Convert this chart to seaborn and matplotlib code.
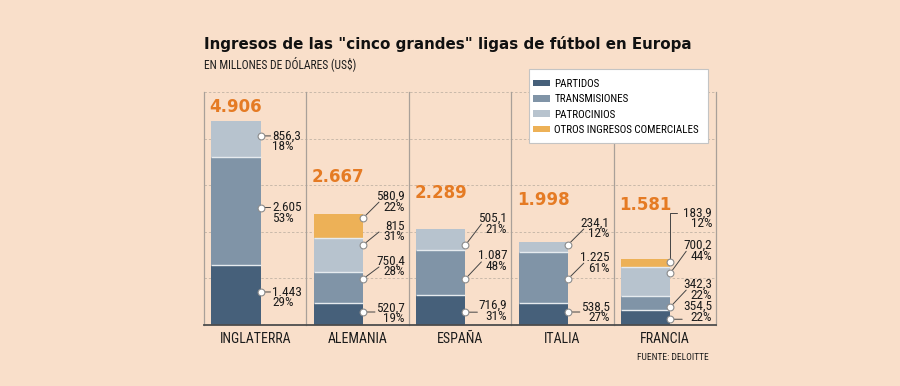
import matplotlib
matplotlib.use('Agg')
import matplotlib.pyplot as plt
import seaborn as sns
import numpy as np
import pandas as pd
from matplotlib import font_manager
from matplotlib.patches import Rectangle

# data (millones de US$)
countries = ['INGLATERRA', 'ALEMANIA', 'ESPAÑA', 'ITALIA', 'FRANCIA']
totals = [4906, 2667, 2289, 1998, 1581]
partidos = [1443, 520.7, 716.9, 538.5, 354.5]
transmisiones = [2605, 750.4, 1087, 1225, 342.3]
patrocinios = [856.3, 815, 505.1, 234.1, 700.2]
otros = [0, 580.9, 0, 0, 183.9]
pct_partidos = [29, 19, 31, 27, 22]
pct_transmisiones = [53, 28, 48, 61, 22]
pct_patrocinios = [18, 31, 21, 12, 44]
pct_otros = [0, 22, 0, 0, 12]

series_names = ['PARTIDOS', 'TRANSMISIONES', 'PATROCINIOS', 'OTROS INGRESOS COMERCIALES']
colors = ['#46607a', '#8094a7', '#b7c3ce', '#edb157']
bg = '#f9dfca'
orange = '#e57b24'
txt = '#1c1c1c'

# hand placement of the callouts: where the dot sits inside the segment,
# and how many pixels above the dot the label goes
anchor_frac = [[0.55, 0.53, 0.58, 0], [0.60, 0.78, 0.80, 0.83], [0.43, 0.36, 0.23, 0],
               [0.58, 0.46, 0.68, 0], [0.39, 0.22, 0.78, 0.67]]
label_dy = [[0, 0, 0, 0], [4, 18, 19, 22], [7, 23, 27, 0], [5, 22, 22, 0], [13, 23, 28, 49]]
total_dy = [14, 37, 36, 42, 54]

available = {f.name for f in font_manager.fontManager.ttflist}
narrow = 'DejaVu Sans'
for name in ['Liberation Sans Narrow', 'Roboto Condensed', 'Open Sans Condensed', 'Roboto']:
    if name in available:
        narrow = name
        break
plt.rcParams['font.family'] = [narrow, 'DejaVu Sans']


def fmt(v):
    if v >= 1000:
        return f'{v:,.0f}'.replace(',', '.')
    if float(v).is_integer():
        return f'{v:.0f}'
    return f'{v:.1f}'.replace('.', ',')


values = np.array([partidos, transmisiones, patrocinios, otros])
pcts = np.array([pct_partidos, pct_transmisiones, pct_patrocinios, pct_otros])
cum = values.cumsum(axis=0)

df = pd.DataFrame({'pais': countries})
for k, name in enumerate(series_names):
    df[name] = cum[k]

fig = plt.figure(figsize=(9, 3.86), dpi=100, facecolor=bg)
ax = fig.add_axes([204 / 900, 61 / 386, 512 / 900, 233 / 386])
ax.set_facecolor(bg)

W = 0.48
# stacked look: draw cumulative bars from the tallest down
for k in range(3, -1, -1):
    sns.barplot(data=df, x='pais', y=series_names[k], order=countries, color=colors[k],
                saturation=1, width=W, errorbar=None, label=series_names[k],
                linewidth=0, zorder=2, ax=ax)

# thin light separators between segments
for i in range(len(countries)):
    for k in range(3):
        if values[k + 1][i] > 0:
            ax.hlines(cum[k][i], i - W / 2, i + W / 2, color='#e6ebef', lw=1, zorder=3)

ymax = 5600
ax.set_ylim(0, ymax)
ax.set_xlim(-0.3125, 4.6875)
for g in np.linspace(0, ymax, 6)[1:]:
    ax.axhline(g, color='#c9b9aa', lw=0.7, ls=(0, (2.5, 2)), zorder=1)
for e in np.arange(6) - 0.3125:
    ax.axvline(e, color='#a9a099', lw=0.9, zorder=1, clip_on=False)
ax.axhline(0, color='#4d4d4d', lw=1.3, zorder=4, clip_on=False)

for s in ax.spines.values():
    s.set_visible(False)
ax.set_yticks([])
ax.set_xticks(np.arange(5) + 0.1875, countries)
ax.tick_params(axis='x', length=0, pad=5, labelsize=10, labelcolor=txt)
ax.set_xlabel('')
ax.set_ylabel('')
if ax.get_legend() is not None:
    ax.get_legend().remove()

line_kw = dict(arrowstyle='-', color='#444444', lw=0.7, shrinkA=0, shrinkB=0)
lab_kw = dict(textcoords='offset pixels', va='center', fontsize=9.5, color=txt, linespacing=0.78)
for i in range(len(countries)):
    bx = i + W / 2
    for k in range(4):
        v = values[k][i]
        if v == 0:
            continue
        y = cum[k][i] - v + v * anchor_frac[i][k]
        dy = label_dy[i][k]
        label = f'{fmt(v)}\n{pcts[k][i]}%'
        ax.scatter([bx], [y], s=24, facecolor='white', edgecolor='#8c8c8c', lw=0.8, zorder=6)
        if i == 0:
            ax.annotate('', xy=(bx, y), xytext=(10, 0), textcoords='offset pixels',
                        arrowprops=line_kw, zorder=5)
            ax.annotate(label, xy=(bx, y), xytext=(11.5, -5.5), ha='left', multialignment='left',
                        **lab_kw)
            continue
        if dy > 40:
            ax.annotate('', xy=(bx, y), xytext=(7, dy), textcoords='offset pixels',
                        arrowprops=dict(line_kw, connectionstyle='angle,angleA=0,angleB=90,rad=0'),
                        zorder=5)
        elif dy > 14:
            ax.annotate('', xy=(bx, y), xytext=(16, dy - 6), textcoords='offset pixels',
                        arrowprops=line_kw, zorder=5)
        else:
            ax.annotate('', xy=(bx, y), xytext=(12, 0), textcoords='offset pixels',
                        arrowprops=line_kw, zorder=5)
        ax.annotate(label, xy=(i + 0.6875, y), xytext=(-4, dy - 5.5), ha='right',
                    multialignment='right', **lab_kw)

    ax.annotate(fmt(totals[i]), xy=(i, cum[3][i]), xytext=(0, total_dy[i]), textcoords='offset pixels',
                ha='center', va='center', fontsize=12, fontweight='bold', color=orange,
                family='DejaVu Sans')

fig.text(204 / 900, 1 - 48.5 / 386, 'Ingresos de las "cinco grandes" ligas de fútbol en Europa',
         fontsize=10.9, fontweight='bold', family='DejaVu Sans', color='#111111', va='baseline')
fig.text(204 / 900, 1 - 68.5 / 386, 'EN MILLONES DE DÓLARES (US$)', fontsize=8.3, color=txt,
         va='baseline')
fig.text(709 / 900, 1 - 360 / 386, 'FUENTE: DELOITTE', fontsize=6.8, color=txt, ha='right',
         va='baseline')

# legend box
fig.patches.append(Rectangle((529 / 900, 1 - 143 / 386), 179 / 900, 74 / 386,
                             transform=fig.transFigure, facecolor='white',
                             edgecolor='#c4c4c4', lw=0.8, zorder=1))
handles, labels = ax.get_legend_handles_labels()
order = [labels.index(n) for n in series_names]
fig.legend([handles[j] for j in order], [labels[j] for j in order],
           loc='upper left', bbox_to_anchor=(533 / 900, 1 - 79 / 386),
           bbox_transform=fig.transFigure, frameon=False, fontsize=7.9,
           borderpad=0, borderaxespad=0, handlelength=1.55, handleheight=0.55,
           handletextpad=0.4, labelspacing=0.48)

fig.savefig('out.png', dpi=100, facecolor=bg)
